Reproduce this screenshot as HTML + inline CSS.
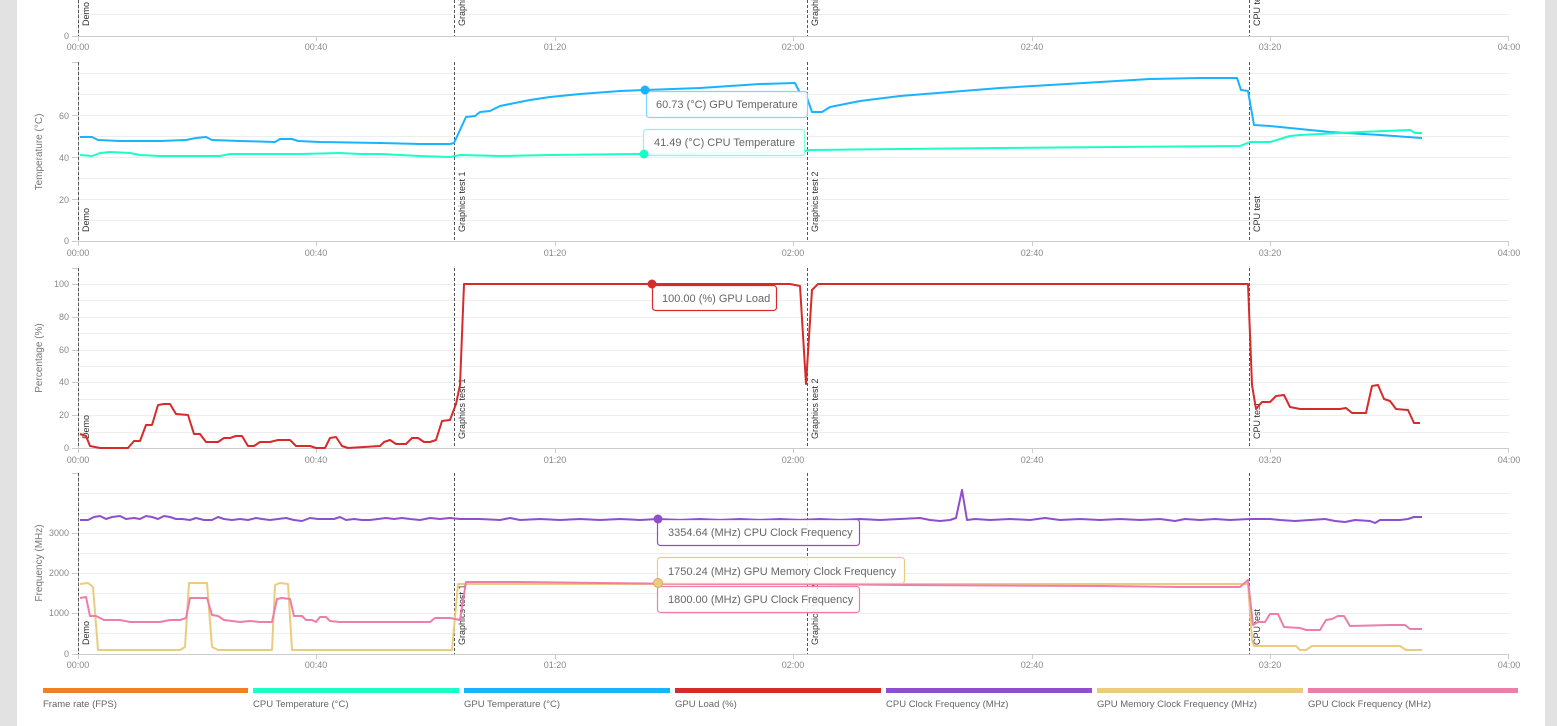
<!DOCTYPE html>
<html><head><meta charset="utf-8"><style>
html,body{margin:0;padding:0;background:#e2e2e2;}
body{width:1557px;height:726px;overflow:hidden;position:relative;font-family:"Liberation Sans",sans-serif;}
#panel{position:absolute;left:17px;top:0;width:1528px;height:726px;background:#fff;}
svg{position:absolute;left:0;top:0;}
text{font-family:"Liberation Sans",sans-serif;}
.tk{font-size:9px;fill:#888;}
.yt{font-size:10px;fill:#777;}
.ev{font-size:9px;fill:#333;}
.tt{font-size:11px;fill:#666;}
.lg{font-size:9.5px;fill:#666;}
</style></head><body>
<div id="panel"></div>
<svg width="1557" height="726" viewBox="0 0 1557 726">
<g stroke="#eee" stroke-width="1">
<line x1="78" x2="1509" y1="14.5" y2="14.5"/>
<!-- temp grid -->
<line x1="78" x2="1509" y1="73.5" y2="73.5"/><line x1="78" x2="1509" y1="94.5" y2="94.5"/><line x1="78" x2="1509" y1="115.5" y2="115.5"/><line x1="78" x2="1509" y1="136.5" y2="136.5"/><line x1="78" x2="1509" y1="157.5" y2="157.5"/><line x1="78" x2="1509" y1="178.5" y2="178.5"/><line x1="78" x2="1509" y1="199.5" y2="199.5"/><line x1="78" x2="1509" y1="220.5" y2="220.5"/>
<!-- load grid -->
<line x1="78" x2="1509" y1="284.5" y2="284.5"/><line x1="78" x2="1509" y1="300.5" y2="300.5"/><line x1="78" x2="1509" y1="317.5" y2="317.5"/><line x1="78" x2="1509" y1="333.5" y2="333.5"/><line x1="78" x2="1509" y1="350.5" y2="350.5"/><line x1="78" x2="1509" y1="366.5" y2="366.5"/><line x1="78" x2="1509" y1="382.5" y2="382.5"/><line x1="78" x2="1509" y1="399.5" y2="399.5"/><line x1="78" x2="1509" y1="415.5" y2="415.5"/><line x1="78" x2="1509" y1="432.5" y2="432.5"/>
<!-- freq grid -->
<line x1="78" x2="1509" y1="493.5" y2="493.5"/><line x1="78" x2="1509" y1="513.5" y2="513.5"/><line x1="78" x2="1509" y1="533.5" y2="533.5"/><line x1="78" x2="1509" y1="553.5" y2="553.5"/><line x1="78" x2="1509" y1="573.5" y2="573.5"/><line x1="78" x2="1509" y1="593.5" y2="593.5"/><line x1="78" x2="1509" y1="613.5" y2="613.5"/><line x1="78" x2="1509" y1="633.5" y2="633.5"/>
</g>
<!-- axes -->
<g stroke="#ccc" stroke-width="1" fill="none">
<line x1="72" x2="1509" y1="36.5" y2="36.5"/>
<line x1="72" x2="1509" y1="241.5" y2="241.5"/><line x1="72" x2="78" y1="62.5" y2="62.5"/><line x1="78.5" x2="78.5" y1="62" y2="241"/>
<line x1="72" x2="1509" y1="448.5" y2="448.5"/><line x1="72" x2="78" y1="268.5" y2="268.5"/><line x1="78.5" x2="78.5" y1="268" y2="448"/>
<line x1="72" x2="1509" y1="654.5" y2="654.5"/><line x1="72" x2="78" y1="473.5" y2="473.5"/><line x1="78.5" x2="78.5" y1="473" y2="654"/>
<line x1="78.5" x2="78.5" y1="0" y2="36"/>
</g>
<g stroke="#ccc">
<path d="M78.5 36v5M316.5 36v5M555.5 36v5M793.5 36v5M1032.5 36v5M1270.5 36v5M1508.5 36v5"/>
<path d="M78.5 241v5M316.5 241v5M555.5 241v5M793.5 241v5M1032.5 241v5M1270.5 241v5M1508.5 241v5"/>
<path d="M78.5 448v5M316.5 448v5M555.5 448v5M793.5 448v5M1032.5 448v5M1270.5 448v5M1508.5 448v5"/>
<path d="M78.5 654v5M316.5 654v5M555.5 654v5M793.5 654v5M1032.5 654v5M1270.5 654v5M1508.5 654v5"/>
<path d="M72 241.5h6M72 199.5h6M72 157.5h6M72 115.5h6M72 448.5h6M72 415.5h6M72 382.5h6M72 350.5h6M72 317.5h6M72 284.5h6M72 654.5h6M72 613.5h6M72 573.5h6M72 533.5h6"/>
</g>
<g class="tk" text-anchor="middle">
<text x="78" y="50">00:00</text><text x="316" y="50">00:40</text><text x="555" y="50">01:20</text><text x="793" y="50">02:00</text><text x="1032" y="50">02:40</text><text x="1270" y="50">03:20</text><text x="1509" y="50">04:00</text>
<text x="78" y="256">00:00</text><text x="316" y="256">00:40</text><text x="555" y="256">01:20</text><text x="793" y="256">02:00</text><text x="1032" y="256">02:40</text><text x="1270" y="256">03:20</text><text x="1509" y="256">04:00</text>
<text x="78" y="463">00:00</text><text x="316" y="463">00:40</text><text x="555" y="463">01:20</text><text x="793" y="463">02:00</text><text x="1032" y="463">02:40</text><text x="1270" y="463">03:20</text><text x="1509" y="463">04:00</text>
<text x="78" y="668">00:00</text><text x="316" y="668">00:40</text><text x="555" y="668">01:20</text><text x="793" y="668">02:00</text><text x="1032" y="668">02:40</text><text x="1270" y="668">03:20</text><text x="1509" y="668">04:00</text>
</g>
<g class="tk" text-anchor="end">
<text x="69" y="39">0</text>
<text x="69" y="244">0</text><text x="69" y="203">20</text><text x="69" y="161">40</text><text x="69" y="119">60</text>
<text x="69" y="451">0</text><text x="69" y="418">20</text><text x="69" y="385">40</text><text x="69" y="353">60</text><text x="69" y="320">80</text><text x="69" y="287">100</text>
<text x="69" y="657">0</text><text x="69" y="616">1000</text><text x="69" y="576">2000</text><text x="69" y="536">3000</text>
</g>
<g class="yt" text-anchor="middle">
<text transform="translate(42,152) rotate(-90)">Temperature (°C)</text>
<text transform="translate(42,358) rotate(-90)">Percentage (%)</text>
<text transform="translate(42,563) rotate(-90)">Frequency (MHz)</text>
</g>
<!-- event lines -->
<g stroke="#555" stroke-dasharray="3,2" stroke-width="1">
<path d="M78.5 0v36M454.5 0v36M807.5 0v36M1249.5 0v36"/>
<path d="M78.5 62v179M454.5 62v179M807.5 62v179M1249.5 62v179"/>
<path d="M78.5 268v180M454.5 268v180M807.5 268v180M1249.5 268v180"/>
<path d="M78.5 473v181M454.5 473v181M807.5 473v181M1249.5 473v181"/>
</g>
<g class="ev">
<text transform="translate(89,26) rotate(-90)">Demo</text><text transform="translate(465,26) rotate(-90)">Graphics test 1</text><text transform="translate(818,26) rotate(-90)">Graphics test 2</text><text transform="translate(1260,26) rotate(-90)">CPU test</text>
<text transform="translate(89,232) rotate(-90)">Demo</text><text transform="translate(465,232) rotate(-90)">Graphics test 1</text><text transform="translate(818,232) rotate(-90)">Graphics test 2</text><text transform="translate(1260,232) rotate(-90)">CPU test</text>
<text transform="translate(89,439) rotate(-90)">Demo</text><text transform="translate(465,439) rotate(-90)">Graphics test 1</text><text transform="translate(818,439) rotate(-90)">Graphics test 2</text><text transform="translate(1260,439) rotate(-90)">CPU test</text>
<text transform="translate(89,645) rotate(-90)">Demo</text><text transform="translate(465,645) rotate(-90)">Graphics test 1</text><text transform="translate(818,645) rotate(-90)">Graphics test 2</text><text transform="translate(1260,645) rotate(-90)">CPU test</text>
</g>
<rect x="0" y="0" width="0" height="0"/>
<g fill="none" stroke-width="2" stroke-linejoin="round">
<polyline stroke="#1ab3ff" points="80,137 92,137 98,140 120,141 160,141 186,140 196,138 206,137 212,140 240,141 275,142 280,139 292,139 298,141 320,142 380,143 420,144 450,144 454,143 460,130 466,117 475,116 480,112 490,111 500,106 510,104 530,100 550,97 580,94 620,91 645,90 700,88 730,86 760,84 795,83 800,93 806,95 812,112 822,112 830,107 860,101 900,96 950,92 1000,88 1050,85 1100,82 1150,79 1200,78 1237,78 1241,90 1248,91 1254,125 1270,126 1300,129 1330,132 1380,135 1422,138"/>
<polyline stroke="#1affc6" points="80,155 92,156 100,153 110,152 130,153 140,155 160,156 220,156 230,154 300,154 340,153 360,154 380,154 400,155 420,156 450,157 460,155 500,156 550,155 640,154 800,152 810,150 1000,148 1240,146 1250,142 1270,142 1290,136 1300,135 1360,132 1410,130 1415,133 1422,133"/>
<polyline stroke="#d62b2b" points="80,434 86,436 90,446 100,448 128,448 134,441 140,441 146,425 152,425 158,405 164,404 170,404 176,414 188,415 194,434 200,434 206,442 218,442 224,438 230,438 236,436 242,436 248,446 254,446 260,442 270,442 278,440 290,440 296,446 310,446 316,448 325,448 330,438 336,437 342,446 348,448 380,446 384,442 390,440 396,444 406,444 412,438 418,438 424,442 430,442 436,440 442,421 450,420 456,404 460,385 464,284 790,284 800,286 806,384 812,290 818,284 1248,284 1252,385 1256,409 1262,402 1270,402 1276,396 1284,395 1290,407 1300,409 1340,409 1346,408 1352,413 1366,413 1372,386 1378,385 1384,399 1390,401 1396,409 1408,410 1414,423 1420,423"/>
<polyline stroke="#8e4fcf" points="80,520 88,520 94,517 100,516 106,519 112,517 120,516 126,519 134,518 140,519 146,516 152,517 158,519 164,516 170,517 176,519 182,519 190,520 196,518 204,520 212,520 218,517 224,519 232,520 240,519 248,520 256,518 262,519 270,520 278,519 286,518 294,520 302,521 310,518 318,519 326,519 334,519 340,517 346,520 354,519 362,520 370,520 378,519 386,518 394,519 402,518 410,519 420,520 430,518 440,519 450,518 460,519 480,519 500,520 510,518 520,520 540,519 560,520 580,519 600,520 620,519 640,520 658,519 680,520 700,519 720,520 740,519 760,520 780,519 800,520 820,519 840,520 860,519 880,520 900,519 920,518 930,520 940,521 950,520 956,518 962,490 967,520 975,519 990,520 1010,519 1030,520 1045,518 1060,520 1080,519 1100,520 1120,519 1140,520 1160,519 1175,521 1185,519 1200,520 1215,519 1230,520 1249,519 1270,519 1280,520 1295,521 1310,520 1325,519 1335,521 1345,522 1355,520 1370,521 1375,523 1380,520 1400,520 1408,519 1414,517 1422,517"/>
<polyline stroke="#ebcc7e" points="80,584 88,583 93,587 98,650 180,650 185,647 189,583 207,583 212,647 218,650 272,650 275,585 280,583 288,584 292,650 452,650 458,584 1248,584 1252,640 1254,646 1296,646 1300,650 1306,650 1312,646 1400,646 1406,650 1422,650"/>
<polyline stroke="#ec7ea8" points="80,598 86,597 90,616 96,616 104,620 120,620 130,622 160,622 170,620 180,620 186,618 190,598 207,598 212,615 218,616 224,620 232,621 240,622 250,621 260,622 272,622 277,599 282,598 290,599 294,616 302,616 306,620 312,620 316,622 320,617 326,617 330,621 340,622 430,622 435,618 450,618 460,620 466,582 520,582 600,583 700,584 800,584 900,585 1100,586 1180,587 1240,587 1248,580 1253,625 1258,622 1265,622 1270,614 1278,614 1284,627 1300,628 1306,630 1320,630 1326,620 1332,619 1338,616 1344,616 1350,626 1390,625 1405,625 1410,629 1422,629"/>
</g>
<!-- tooltips -->
<g stroke-width="1.2">
<rect x="646.5" y="91.5" width="161" height="26" rx="3" fill="#fff" fill-opacity="0.9" stroke="#7fd6ff"/>
<rect x="643.5" y="129.5" width="161" height="26" rx="3" fill="#fff" fill-opacity="0.9" stroke="#7fffe0"/>
<rect x="652.5" y="285.5" width="124" height="25" rx="3" fill="#fff" fill-opacity="0.9" stroke="#d62b2b"/>
<rect x="657.5" y="519.5" width="202" height="26" rx="3" fill="#fff" fill-opacity="0.9" stroke="#8e4fcf"/>
<rect x="657.5" y="557.5" width="247" height="26" rx="3" fill="#fff" fill-opacity="0.9" stroke="#ebcc7e"/>
<rect x="657.5" y="586.5" width="202" height="26" rx="3" fill="#fff" fill-opacity="0.9" stroke="#ec7ea8"/>
</g>
<circle cx="645" cy="90" r="4.5" fill="#1ab3ff"/>
<circle cx="644" cy="154" r="4.5" fill="#1affc6"/>
<circle cx="652" cy="284" r="4.5" fill="#d62b2b"/>
<circle cx="658" cy="519" r="4.5" fill="#8e4fcf"/>
<circle cx="658" cy="583" r="4.5" fill="#ebcc7e" stroke="#d9a86a" stroke-width="1"/>
<g class="tt">
<text x="656" y="108">60.73 (°C) GPU Temperature</text>
<text x="654" y="146">41.49 (°C) CPU Temperature</text>
<text x="662" y="302">100.00 (%) GPU Load</text>
<text x="668" y="536">3354.64 (MHz) CPU Clock Frequency</text>
<text x="668" y="575">1750.24 (MHz) GPU Memory Clock Frequency</text>
<text x="668" y="603">1800.00 (MHz) GPU Clock Frequency</text>
</g>
<!-- legend -->
<rect x="43" y="688" width="205" height="5" fill="#f28020"/>
<rect x="253" y="688" width="206" height="5" fill="#1affc6"/>
<rect x="464" y="688" width="206" height="5" fill="#1ab3ff"/>
<rect x="675" y="688" width="206" height="5" fill="#d62b2b"/>
<rect x="886" y="688" width="206" height="5" fill="#8e4fcf"/>
<rect x="1097" y="688" width="206" height="5" fill="#ebcc7e"/>
<rect x="1308" y="688" width="210" height="5" fill="#ec7ea8"/>
<g class="lg">
<text x="43" y="707">Frame rate (FPS)</text>
<text x="253" y="707">CPU Temperature (°C)</text>
<text x="464" y="707">GPU Temperature (°C)</text>
<text x="675" y="707">GPU Load (%)</text>
<text x="886" y="707">CPU Clock Frequency (MHz)</text>
<text x="1097" y="707">GPU Memory Clock Frequency (MHz)</text>
<text x="1308" y="707">GPU Clock Frequency (MHz)</text>
</g>
</svg>
</body></html>
